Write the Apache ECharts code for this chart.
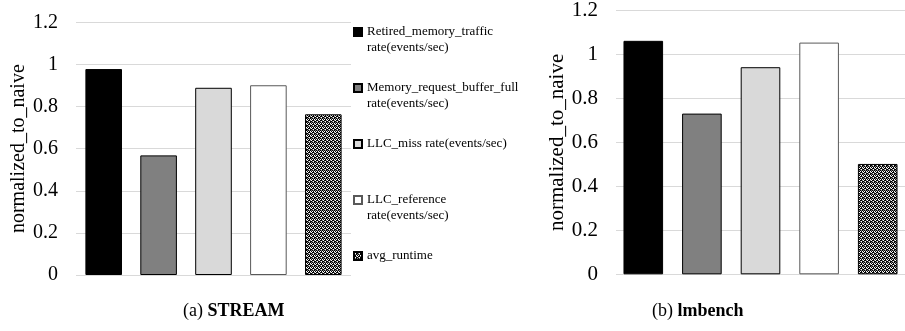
<!DOCTYPE html>
<html>
<head>
<meta charset="utf-8">
<script src="https://cdn.jsdelivr.net/npm/echarts/dist/echarts.min.js"></script>
<style>
  html, body { margin: 0; padding: 0; background: #fff; }
  #chart { width: 905px; height: 331px; }
</style>
</head>
<body>
<div id="chart"></div>
<script>
// Event-rate metrics, each normalized to the naive configuration
const metricNames = [
  'Retired_memory_traffic\nrate(events/sec)',
  'Memory_request_buffer_full\nrate(events/sec)',
  'LLC_miss rate(events/sec)',
  'LLC_reference\nrate(events/sec)',
  'avg_runtime'
];
const streamValues  = [0.978, 0.568, 0.889, 0.901, 0.763];
const lmbenchValues = [1.062, 0.731, 0.942, 1.054, 0.502];
const benchmarks = ['STREAM', 'lmbench'];
const captionPrefixes = ['(a)', '(b)'];
const yMin = 0, yMax = 1.2, yStep = 0.2;

const SERIF = '"Liberation Serif", "Times New Roman", serif';

// Black/white weave used for the runtime bars
function makeWeave() {
  const c = document.createElement('canvas');
  c.width = 4; c.height = 4;
  const ctx = c.getContext('2d');
  ctx.fillStyle = '#ffffff';
  ctx.fillRect(0, 0, 4, 4);
  ctx.fillStyle = '#000000';
  const dark = [[0,0],[1,0],[2,1],[3,1],[0,2],[1,3],[2,2],[3,3]];
  dark.forEach(([x, y]) => ctx.fillRect(x, y, 1, 1));
  ctx.fillStyle = '#808080';
  [[2,0],[0,1],[3,2],[1,2]].forEach(([x, y]) => ctx.fillRect(x, y, 1, 1));
  return { image: c, repeat: 'repeat' };
}

const fills = ['#000000', '#808080', '#d9d9d9', '#ffffff', makeWeave()];
const borders = ['#000000', '#000000', '#000000', '#595959', '#000000'];

// Plot geometry per panel
const panels = [
  { values: streamValues,  left: 76,  width: 275,   top: 22.3, bottom: 56,   fontSize: 20, nameGap: 44, barWidth: 36.6, barGap: '50%' },
  { values: lmbenchValues, left: 616, width: 292.5, top: 10,   bottom: 56.7, fontSize: 21, nameGap: 46, barWidth: 39.6, barGap: '48%' }
];

const grid = panels.map(p => ({ left: p.left, width: p.width, top: p.top, bottom: p.bottom }));

const xAxis = panels.map((p, i) => ({
  type: 'category',
  gridIndex: i,
  data: [benchmarks[i]],
  axisLine: { show: false },
  axisTick: { show: false },
  axisLabel: { show: false }
}));

const yAxis = panels.map((p, i) => ({
  type: 'value',
  gridIndex: i,
  min: yMin, max: yMax, interval: yStep,
  name: 'normalized_to_naive',
  nameLocation: 'middle',
  nameGap: p.nameGap,
  nameTextStyle: { fontFamily: SERIF, fontSize: p.fontSize, color: '#000' },
  axisLine: { show: false },
  axisTick: { show: false },
  axisLabel: { fontFamily: SERIF, fontSize: p.fontSize, color: '#000', margin: 18 },
  splitLine: { lineStyle: { color: '#d9d9d9', width: 1 } }
}));

const series = [];
panels.forEach((p, pi) => {
  metricNames.forEach((name, mi) => {
    series.push({
      type: 'bar',
      name: name,
      xAxisIndex: pi,
      yAxisIndex: pi,
      data: [p.values[mi]],
      barWidth: p.barWidth,
      barGap: p.barGap,
      itemStyle: { color: fills[mi], borderColor: borders[mi], borderWidth: 1 },
      emphasis: { disabled: true },
      animation: false
    });
  });
});

// One legend block per metric; a leading blank line keeps the marker
// level with the first line of a wrapped label
const markerCenters = [32, 88, 144, 200, 256];
const legend = metricNames.map((name, i) => {
  const twoLines = name.indexOf('\n') >= 0;
  return {
    data: [name],
    left: 353,
    top: markerCenters[i] - (twoLines ? 24 : 8),
    orient: 'vertical',
    padding: 0,
    itemWidth: 8,
    itemHeight: 8,
    icon: 'rect',
    selectedMode: false,
    formatter: n => (twoLines ? '\n' + n : n),
    textStyle: { fontFamily: SERIF, fontSize: 13, lineHeight: 16, color: '#000' }
  };
});

const captionLefts = [183, 652];
const title = benchmarks.map((b, i) => ({
  text: '{n|' + captionPrefixes[i] + '} {b|' + b + '}',
  left: captionLefts[i],
  top: 302,
  padding: 0,
  textStyle: {
    fontFamily: SERIF, fontSize: 18, fontWeight: 'normal', color: '#000',
    rich: {
      n: { fontFamily: SERIF, fontSize: 18, fontWeight: 'normal', color: '#000' },
      b: { fontFamily: SERIF, fontSize: 18, fontWeight: 'bold', color: '#000' }
    }
  }
}));

const chart = echarts.init(document.getElementById('chart'), null, { renderer: 'canvas' });
chart.setOption({
  animation: false,
  backgroundColor: '#ffffff',
  title, grid, xAxis, yAxis, legend, series
});
</script>
</body>
</html>
